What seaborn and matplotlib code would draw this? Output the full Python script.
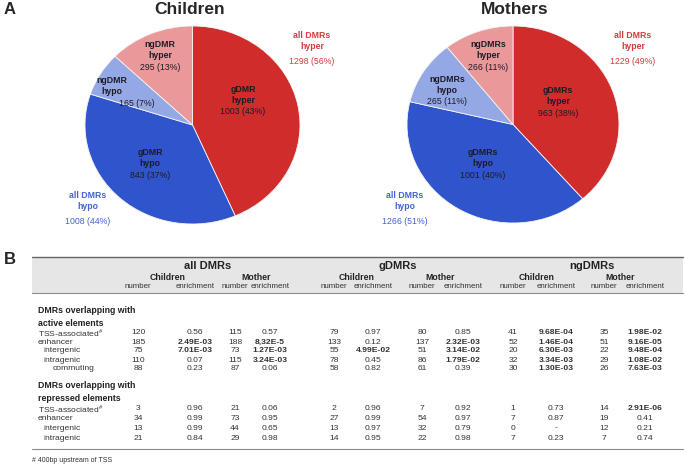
import matplotlib
matplotlib.use("Agg")
import matplotlib.pyplot as plt
import seaborn as sns
from matplotlib.patches import Rectangle

# ---- Panel A data ----
slice_names = ["gDMR hyper", "gDMR hypo", "ngDMR hypo", "ngDMR hyper"]
children_counts = [1003, 843, 165, 295]
children_pcts = [43, 37, 7, 13]
mothers_counts = [963, 1001, 265, 266]
mothers_pcts = [38, 40, 11, 11]
children_all = [1298, 1008]      # hyper, hypo
children_all_pcts = [56, 44]
mothers_all = [1229, 1266]
mothers_all_pcts = [49, 51]

# ---- Panel B data ----
active_rows = ["TSS-associated$^{\\#}$", "enhancer", "intergenic", "intragenic", "commuting"]
repressed_rows = ["TSS-associated$^{\\#}$", "enhancer", "intergenic", "intragenic"]
row_indent = {"TSS-associated$^{\\#}$": 0, "enhancer": 0, "intergenic": 5, "intragenic": 5, "commuting": 15}

groups = ["all DMRs", "gDMRs", "ngDMRs"]
subgroups = ["Children", "Mother"]

all_ch_num_act = ["120", "185", "75", "110", "88"]
all_ch_enr_act = ["0.56", "2.49E-03", "7.01E-03", "0.07", "0.23"]
all_mo_num_act = ["115", "188", "73", "115", "87"]
all_mo_enr_act = ["0.57", "8,32E-5", "1.27E-03", "3.24E-03", "0.06"]
g_ch_num_act = ["79", "133", "55", "78", "58"]
g_ch_enr_act = ["0.97", "0.12", "4.99E-02", "0.45", "0.82"]
g_mo_num_act = ["80", "137", "51", "86", "61"]
g_mo_enr_act = ["0.85", "2.32E-03", "3.14E-02", "1.79E-02", "0.39"]
ng_ch_num_act = ["41", "52", "20", "32", "30"]
ng_ch_enr_act = ["9.68E-04", "1.46E-04", "6.30E-03", "3.34E-03", "1.30E-03"]
ng_mo_num_act = ["35", "51", "22", "29", "26"]
ng_mo_enr_act = ["1.98E-02", "9.16E-05", "9.48E-04", "1.08E-02", "7.63E-03"]

all_ch_num_rep = ["3", "34", "13", "21"]
all_ch_enr_rep = ["0.96", "0.99", "0.99", "0.84"]
all_mo_num_rep = ["21", "73", "44", "29"]
all_mo_enr_rep = ["0.06", "0.95", "0.65", "0.98"]
g_ch_num_rep = ["2", "27", "13", "14"]
g_ch_enr_rep = ["0.96", "0.99", "0.97", "0.95"]
g_mo_num_rep = ["7", "54", "32", "22"]
g_mo_enr_rep = ["0.92", "0.97", "0.79", "0.98"]
ng_ch_num_rep = ["1", "7", "0", "7"]
ng_ch_enr_rep = ["0.73", "0.87", "-", "0.23"]
ng_mo_num_rep = ["14", "19", "12", "7"]
ng_mo_enr_rep = ["2.91E-06", "0.41", "0.21", "0.74"]

active_cols = [all_ch_num_act, all_ch_enr_act, all_mo_num_act, all_mo_enr_act,
               g_ch_num_act, g_ch_enr_act, g_mo_num_act, g_mo_enr_act,
               ng_ch_num_act, ng_ch_enr_act, ng_mo_num_act, ng_mo_enr_act]
repressed_cols = [all_ch_num_rep, all_ch_enr_rep, all_mo_num_rep, all_mo_enr_rep,
                  g_ch_num_rep, g_ch_enr_rep, g_mo_num_rep, g_mo_enr_rep,
                  ng_ch_num_rep, ng_ch_enr_rep, ng_mo_num_rep, ng_mo_enr_rep]

sns.set_theme(style="white")
plt.rcParams['font.family'] = ['Liberation Sans', 'DejaVu Sans']
plt.rcParams['mathtext.fontset'] = 'custom'
plt.rcParams['mathtext.rm'] = 'Liberation Sans'

colors = ["#d02c2c", "#2f54cc", "#95a8e6", "#e99999"]
red_txt = "#d23c3c"
blue_txt = "#4363cf"
dark = "#1c1c28"

W, H = 685, 467
fig = plt.figure(figsize=(W / 100, H / 100), dpi=100)


def pie_axes(left, right, top, bottom):
    return fig.add_axes([left / W, (H - bottom) / H, (right - left) / W, (bottom - top) / H])


ax_c = pie_axes(85, 300, 26, 224)
ax_m = pie_axes(407, 619, 26, 223)
for ax, counts in [(ax_c, children_counts), (ax_m, mothers_counts)]:
    ax.pie(counts, colors=colors, startangle=90, counterclock=False,
           wedgeprops=dict(edgecolor="#f4f4f4", linewidth=0.6))
    ax.set_aspect('auto')
    ax.set_xlim(-1, 1)
    ax.set_ylim(-1, 1)

# overlay in pixel coordinates for text and table
ov = fig.add_axes([0, 0, 1, 1])
ov.set_xlim(0, W)
ov.set_ylim(H, 0)
ov.axis('off')
ov.patch.set_visible(False)

ov.text(4, 9, "A", fontsize=12, fontweight='bold', va='center', ha='left')
ov.text(190, 9, "Children", fontsize=12.5, fontweight='bold', va='center', ha='center')
ov.text(515, 9, "Mothers", fontsize=12.5, fontweight='bold', va='center', ha='center')


def slice_label(x, y, name, n, p, dx=0):
    ov.text(x, y, name.replace(" ", "\n"), fontsize=6.3, fontweight='bold', color=dark,
            ha='center', va='center', linespacing=1.15)
    ov.text(x + dx, y + 17, f"{n} ({p}%)", fontsize=6.3, color=dark, ha='center', va='center')


# Children inner labels
c_pos = [(243, 95, 0), (150, 158, 0), (112, 86, 25), (160, 50, 0)]
for (x, y, dx), name, n, p in zip(c_pos, slice_names, children_counts, children_pcts):
    slice_label(x, y, name, n, p, dx)

# Mothers inner labels
m_names = [s.replace("DMR", "DMRs") for s in slice_names]
m_pos = [(558, 96, 0), (483, 158, 0), (447, 85, 0), (488, 50, 0)]
for (x, y, dx), name, n, p in zip(m_pos, m_names, mothers_counts, mothers_pcts):
    slice_label(x, y, name, n, p, dx)


def all_label(x, y, kind, n, p, col):
    ov.text(x, y, f"all DMRs\n{kind}", fontsize=6.3, fontweight='bold', color=col,
            ha='center', va='center', linespacing=1.3)
    ov.text(x, y + 20, f"{n} ({p}%)", fontsize=6.3, color=col, ha='center', va='center')


all_label(312, 41, "hyper", children_all[0], children_all_pcts[0], red_txt)
all_label(88, 201, "hypo", children_all[1], children_all_pcts[1], blue_txt)
all_label(633, 41, "hyper", mothers_all[0], mothers_all_pcts[0], red_txt)
all_label(405, 201, "hypo", mothers_all[1], mothers_all_pcts[1], blue_txt)

# ---- Panel B: table ----
ov.text(4, 259, "B", fontsize=12, fontweight='bold', va='center', ha='left')
tl, tr = 32, 683
ov.add_patch(Rectangle((tl, 257), tr - tl, 36, facecolor="#e6e6e6", edgecolor='none'))
ov.plot([tl, tr], [257, 257], color="#666666", lw=1.0)
ov.plot([tl, tr], [293, 293], color="#8c8c8c", lw=0.8)
ov.plot([tl, tr], [449, 449], color="#8c8c8c", lw=0.8)

num_x = [138, 235, 334, 422, 513, 604]
enr_x = [195, 270, 373, 463, 556, 645]
sub_x = [168, 256, 357, 440, 537, 620]
grp_x = [208, 398, 592]

for gx, g in zip(grp_x, groups):
    ov.text(gx, 266, g, fontsize=8, fontweight='bold', ha='center', va='center', color="#222222")
for i, sx in enumerate(sub_x):
    ov.text(sx, 277, subgroups[i % 2], fontsize=6.3, fontweight='bold', ha='center', va='center',
            color="#222222")
for nx, ex in zip(num_x, enr_x):
    ov.text(nx, 286, "number", fontsize=5.7, ha='center', va='center', color="#333333")
    ov.text(ex, 286, "enrichment", fontsize=5.7, ha='center', va='center', color="#333333")

col_x = [x for pair in zip(num_x, enr_x) for x in pair]


def draw_block(title_y, title, rows, cols, row_y):
    ov.text(38, title_y, title, fontsize=6.3, fontweight='bold', ha='left', va='center',
            color="#222222", linespacing=1.45)
    for r, (name, y) in enumerate(zip(rows, row_y)):
        ov.text(38 + row_indent[name], y, name, fontsize=6.1, ha='left', va='center', color="#333333")
        for cx, col in zip(col_x, cols):
            v = col[r]
            ov.text(cx, y, v, fontsize=6.1, ha='center', va='center', color="#333333",
                    fontweight='bold' if "E" in v else 'normal')


draw_block(317, "DMRs overlapping with\nactive elements", active_rows, active_cols,
           [333, 342, 351, 360, 369])
draw_block(392, "DMRs overlapping with\nrepressed elements", repressed_rows, repressed_cols,
           [409, 419, 428, 438])

ov.text(32, 460, "# 400bp upstream of TSS", fontsize=5, ha='left', va='center', color="#333333")

fig.savefig("out.png", dpi=100)
